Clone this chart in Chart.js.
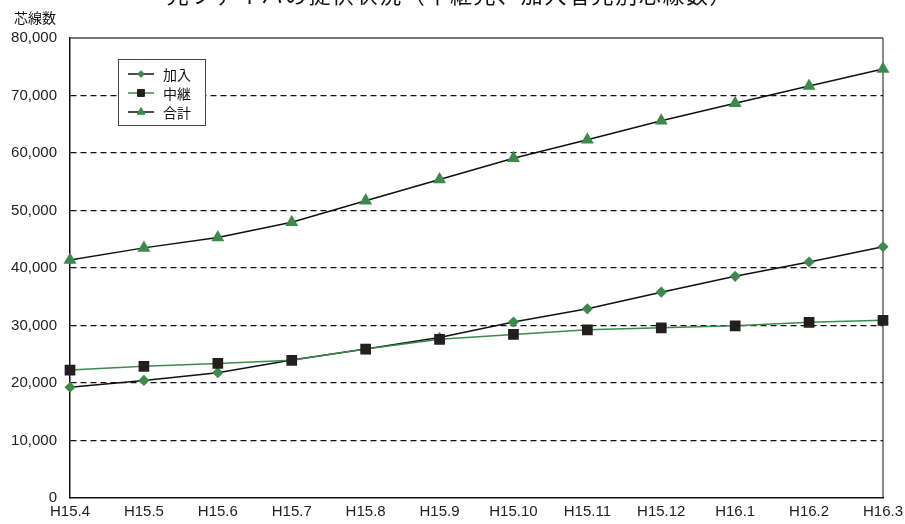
<!DOCTYPE html>
<html>
<head>
<meta charset="utf-8">
<script src="https://cdn.jsdelivr.net/npm/chart.js@4"></script>
<style>
  html, body { margin: 0; padding: 0; background: #fff; }
  #wrap { width: 905px; height: 524px; position: relative; }
</style>
</head>
<body>
<div id="wrap"><canvas id="chart"></canvas></div>
<script>
const months = ["H15.4", "H15.5", "H15.6", "H15.7", "H15.8", "H15.9", "H15.10", "H15.11", "H15.12", "H16.1", "H16.2", "H16.3"];
const kanyu = [19250, 20450, 21800, 24000, 25900, 27900, 30600, 32900, 35800, 38550, 41050, 43700];
const chukei = [22250, 22900, 23400, 23950, 25900, 27600, 28450, 29250, 29600, 29950, 30550, 30900];
const goukei = [41400, 43500, 45300, 47950, 51700, 55400, 59100, 62300, 65600, 68650, 71650, 74600];
const seriesNames = ["加入", "中継", "合計"];

const GREEN = "#3d8b4c";
const FONT = "'Liberation Sans', Arial, sans-serif";
const JP = "'Noto Sans CJK JP', sans-serif";

// title, y axis caption and the boxed legend
const extras = {
  id: "extras",
  afterDraw(chart) {
    const ctx = chart.ctx;
    ctx.save();
    ctx.fillStyle = "#111";
    ctx.font = "22px " + JP;
    ctx.letterSpacing = "1.6px";
    ctx.textAlign = "center";
    ctx.textBaseline = "middle";
    ctx.fillText("光ファイバの提供状況（中継光、加入者光別芯線数）", 450, -5);
    ctx.letterSpacing = "0px";

    ctx.font = "14px " + JP;
    ctx.textAlign = "left";
    ctx.fillText("芯線数", 14, 18);

    ctx.fillStyle = "#fff";
    ctx.fillRect(118, 59, 88, 67);
    ctx.strokeStyle = "#444";
    ctx.lineWidth = 1;
    ctx.strokeRect(118.5, 59.5, 87, 66);

    chart.data.datasets.forEach(function (ds, i) {
      const y = 74 + i * 19;
      ctx.strokeStyle = ds.borderColor;
      ctx.lineWidth = 1.5;
      ctx.beginPath();
      ctx.moveTo(128, y);
      ctx.lineTo(154, y);
      ctx.stroke();
      ctx.fillStyle = ds.pointBackgroundColor;
      ctx.strokeStyle = ds.pointBorderColor;
      ctx.lineWidth = 1;
      Chart.helpers.drawPoint(ctx, { pointStyle: ds.pointStyle, radius: ds.pointRadius * 0.75, borderWidth: 1, rotation: 0 }, 141, y);
      ctx.fillStyle = "#111";
      ctx.font = "14px " + JP;
      ctx.textBaseline = "middle";
      ctx.fillText(ds.label, 163, y + 1);
    });
    ctx.restore();
  }
};

new Chart(document.getElementById("chart"), {
  type: "line",
  data: {
    labels: months,
    datasets: [
      {
        label: seriesNames[0],
        data: kanyu,
        borderColor: "#111",
        borderWidth: 1.5,
        pointStyle: "rectRot",
        pointRadius: 4.5,
        pointBackgroundColor: GREEN,
        pointBorderColor: GREEN,
        order: 1
      },
      {
        label: seriesNames[1],
        data: chukei,
        borderColor: GREEN,
        borderWidth: 1.5,
        pointStyle: "rect",
        pointRadius: 6.5,
        pointBackgroundColor: "#231f20",
        pointBorderColor: "#231f20",
        order: 0
      },
      {
        label: seriesNames[2],
        data: goukei,
        borderColor: "#111",
        borderWidth: 1.5,
        pointStyle: "triangle",
        pointRadius: 6,
        pointBackgroundColor: GREEN,
        pointBorderColor: GREEN,
        order: 2
      }
    ]
  },
  options: {
    responsive: true,
    maintainAspectRatio: false,
    animation: false,
    layout: { padding: { top: 38, right: 22, left: 0, bottom: 0 } },
    plugins: {
      legend: { display: false },
      title: { display: false },
      tooltip: { enabled: false }
    },
    scales: {
      x: {
        offset: false,
        afterFit: function (scale) {
          scale.height = 26;
          scale.paddingLeft = 0;
          scale.paddingRight = 0;
        },
        grid: {
          drawTicks: false,
          color: function (c) { return c.index === months.length - 1 ? "#888" : "rgba(0,0,0,0)"; },
          lineWidth: 2
        },
        border: { color: "#111", width: 1.5 },
        ticks: { color: "#222", font: { family: FONT, size: 15 }, padding: 5, maxRotation: 0, autoSkip: false }
      },
      y: {
        min: 0,
        max: 80000,
        afterFit: function (scale) { scale.width = 70; },
        grid: {
          drawTicks: false,
          color: function (c) {
            if (c.tick.value === 0) return "rgba(0,0,0,0)";
            return c.tick.value === 80000 ? "#777" : "#111";
          },
          lineWidth: function (c) { return c.tick.value === 80000 ? 2 : 1.3; }
        },
        border: {
          color: "#111",
          width: 1.5,
          dash: function (c) { return c.tick && c.tick.value === 80000 ? [] : [6, 4]; }
        },
        ticks: {
          stepSize: 10000,
          color: "#222",
          font: { family: FONT, size: 15 },
          padding: 13,
          callback: function (value) { return value.toLocaleString("en-US"); }
        }
      }
    }
  },
  plugins: [extras]
});
</script>
</body>
</html>
